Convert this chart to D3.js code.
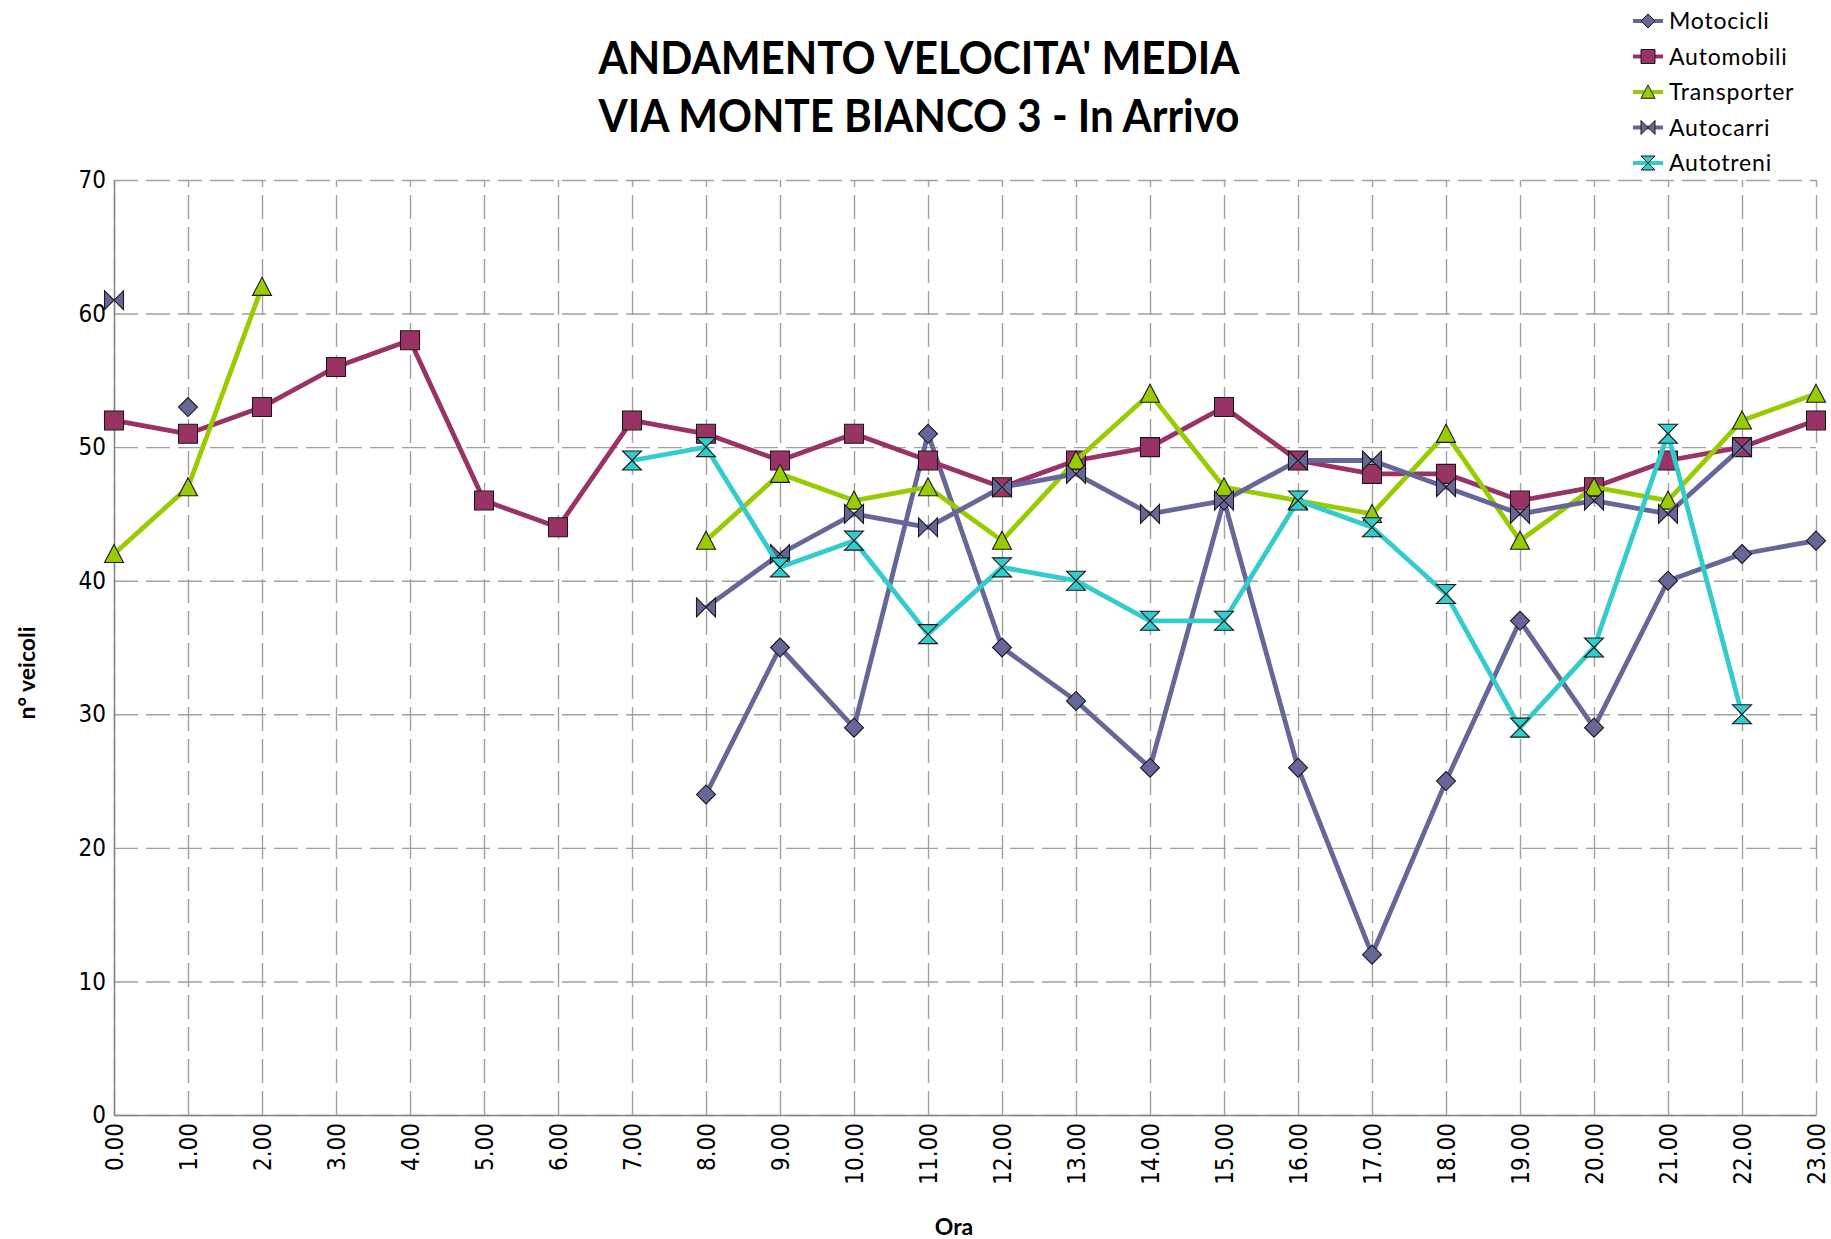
<!DOCTYPE html>
<html lang="it">
<head>
<meta charset="UTF-8">
<title>Andamento velocita' media</title>
<script src="https://d3js.org/d3.v7.min.js"></script>
<style>
    body { margin: 0; background: #fff; }
    svg { display: block; }
    .grid line { stroke: #a0a0a0; stroke-width: 1.4px; stroke-dasharray: 24, 8; }
    .grid path { display: none; }
    .axis path { stroke: #868686; stroke-width: 1.5px; }
    .axis line { display: none; }
    .axis text { font-family: 'DejaVu Sans Condensed', 'DejaVu Sans', sans-serif; font-stretch: condensed; font-size: 24px; fill: #000; }
    .title { font-family: Lato, 'Open Sans', sans-serif; font-weight: 700; font-size: 46px; }
    .axis-title { font-family: Lato, 'Open Sans', sans-serif; font-weight: 700; font-size: 23px; }
    .legend text { font-family: Lato, 'Open Sans', sans-serif; font-size: 23px; letter-spacing: 0.8px; }
</style>
</head>
<body>
<svg id="chart" width="1831" height="1239"></svg>
<script>
    const hourLabels = ['0.00', '1.00', '2.00', '3.00', '4.00', '5.00', '6.00', '7.00', '8.00', '9.00', '10.00', '11.00',
        '12.00', '13.00', '14.00', '15.00', '16.00', '17.00', '18.00', '19.00', '20.00', '21.00', '22.00', '23.00'];
    const yTicks = [0, 10, 20, 30, 40, 50, 60, 70];

    // valori (null = nessun dato)
    const motocicli = [null, 53, null, null, null, null, null, null, 24, 35, 29, 51, 35, 31, 26, 46, 26, 12, 25, 37, 29, 40, 42, 43];
    const automobili = [52, 51, 53, 56, 58, 46, 44, 52, 51, 49, 51, 49, 47, 49, 50, 53, 49, 48, 48, 46, 47, 49, 50, 52];
    const transporter = [42, 47, 62, null, null, null, null, null, 43, 48, 46, 47, 43, 49, 54, 47, 46, 45, 51, 43, 47, 46, 52, 54];
    const autocarri = [61, null, null, null, null, null, null, null, 38, 42, 45, 44, 47, 48, 45, 46, 49, 49, 47, 45, 46, 45, 50, null];
    const autotreni = [null, null, null, null, null, null, null, 49, 50, 41, 43, 36, 41, 40, 37, 37, 46, 44, 39, 29, 35, 51, 30, null];

    const seriesNames = ['Motocicli', 'Automobili', 'Transporter', 'Autocarri', 'Autotreni'];
    const seriesColors = ['#666699', '#993366', '#99cc00', '#666699', '#33cccc'];
    const seriesShapes = ['diamond', 'square', 'triangle', 'bowtie', 'hourglass'];
    const seriesValues = [motocicli, automobili, transporter, autocarri, autotreni];

    const svg = d3.select('#chart');
    const plotLeft = 114, plotRight = 1816, plotTop = 180, plotBottom = 1115;

    const x = d3.scalePoint().domain(hourLabels).range([plotLeft, plotRight]);
    const y = d3.scaleLinear().domain([0, 70]).range([plotBottom, plotTop]);

    function markerPath(shape, s) {
        switch (shape) {
            case 'diamond': return `M0,${-s}L${s},0L0,${s}L${-s},0Z`;
            case 'square': return `M${-s},${-s}H${s}V${s}H${-s}Z`;
            case 'triangle': return `M0,${-s}L${s},${s * 0.9}L${-s},${s * 0.9}Z`;
            case 'bowtie': return `M${-s},${-s}L${s},${s}L${s},${-s}L${-s},${s}Z`;
            case 'hourglass': return `M${-s},${-s}L${s},${-s}L${-s},${s}L${s},${s}Z`;
        }
    }

    // griglia
    svg.append('g').attr('class', 'grid')
        .attr('transform', `translate(${plotLeft},0)`)
        .call(d3.axisLeft(y).tickValues(yTicks).tickSize(-(plotRight - plotLeft)).tickFormat(''));
    svg.append('g').attr('class', 'grid')
        .attr('transform', `translate(0,${plotBottom})`)
        .call(d3.axisBottom(x).tickSize(-(plotBottom - plotTop)).tickFormat(''));

    // assi
    svg.append('g').attr('class', 'axis')
        .attr('transform', `translate(${plotLeft},0)`)
        .call(d3.axisLeft(y).tickValues(yTicks).tickSize(0).tickPadding(8).tickSizeOuter(0));
    const xAxis = svg.append('g').attr('class', 'axis')
        .attr('transform', `translate(0,${plotBottom})`)
        .call(d3.axisBottom(x).tickSize(0).tickSizeOuter(0));
    xAxis.selectAll('text')
        .attr('transform', 'rotate(-90)')
        .attr('text-anchor', 'end')
        .attr('x', -8)
        .attr('y', 0)
        .attr('dy', '0.35em');

    // serie
    const line = d3.line()
        .defined(d => d.v !== null)
        .x(d => x(d.h))
        .y(d => y(d.v));

    seriesValues.forEach((vals, i) => {
        const data = vals.map((v, k) => ({ h: hourLabels[k], v }));
        const g = svg.append('g');
        g.append('path')
            .datum(data)
            .attr('fill', 'none')
            .attr('stroke', seriesColors[i])
            .attr('stroke-width', 4.8)
            .attr('stroke-linejoin', 'round')
            .attr('d', line);
        g.selectAll('path.marker')
            .data(data.filter(d => d.v !== null))
            .enter().append('path')
            .attr('class', 'marker')
            .attr('transform', d => `translate(${x(d.h)},${y(d.v)})`)
            .attr('d', markerPath(seriesShapes[i], 9.5))
            .attr('fill', seriesColors[i])
            .attr('stroke', '#1a1a1a')
            .attr('stroke-width', 1.1);
    });

    // titolo
    const title = svg.append('text').attr('class', 'title').attr('text-anchor', 'middle');
    title.append('tspan').attr('x', 919).attr('y', 74)
        .attr('textLength', 641).attr('lengthAdjust', 'spacingAndGlyphs')
        .text("ANDAMENTO VELOCITA' MEDIA");
    title.append('tspan').attr('x', 919).attr('y', 132)
        .attr('textLength', 641).attr('lengthAdjust', 'spacingAndGlyphs')
        .text('VIA MONTE BIANCO 3 - In Arrivo');

    svg.append('text').attr('class', 'axis-title')
        .attr('transform', 'translate(35,673) rotate(-90)')
        .attr('text-anchor', 'middle')
        .text('n° veicoli');
    svg.append('text').attr('class', 'axis-title')
        .attr('x', 954).attr('y', 1235)
        .attr('text-anchor', 'middle')
        .text('Ora');

    // legenda
    const legend = svg.append('g').attr('class', 'legend');
    seriesNames.forEach((name, i) => {
        const ly = 21 + i * 35.5;
        const row = legend.append('g').attr('transform', `translate(1648,${ly})`);
        row.append('line')
            .attr('x1', -15).attr('x2', 15)
            .attr('stroke', seriesColors[i]).attr('stroke-width', 4);
        row.append('path')
            .attr('d', markerPath(seriesShapes[i], 7))
            .attr('fill', seriesColors[i])
            .attr('stroke', '#1a1a1a').attr('stroke-width', 1);
        row.append('text')
            .attr('x', 21).attr('dy', '0.36em')
            .text(name);
    });
</script>
</body>
</html>
